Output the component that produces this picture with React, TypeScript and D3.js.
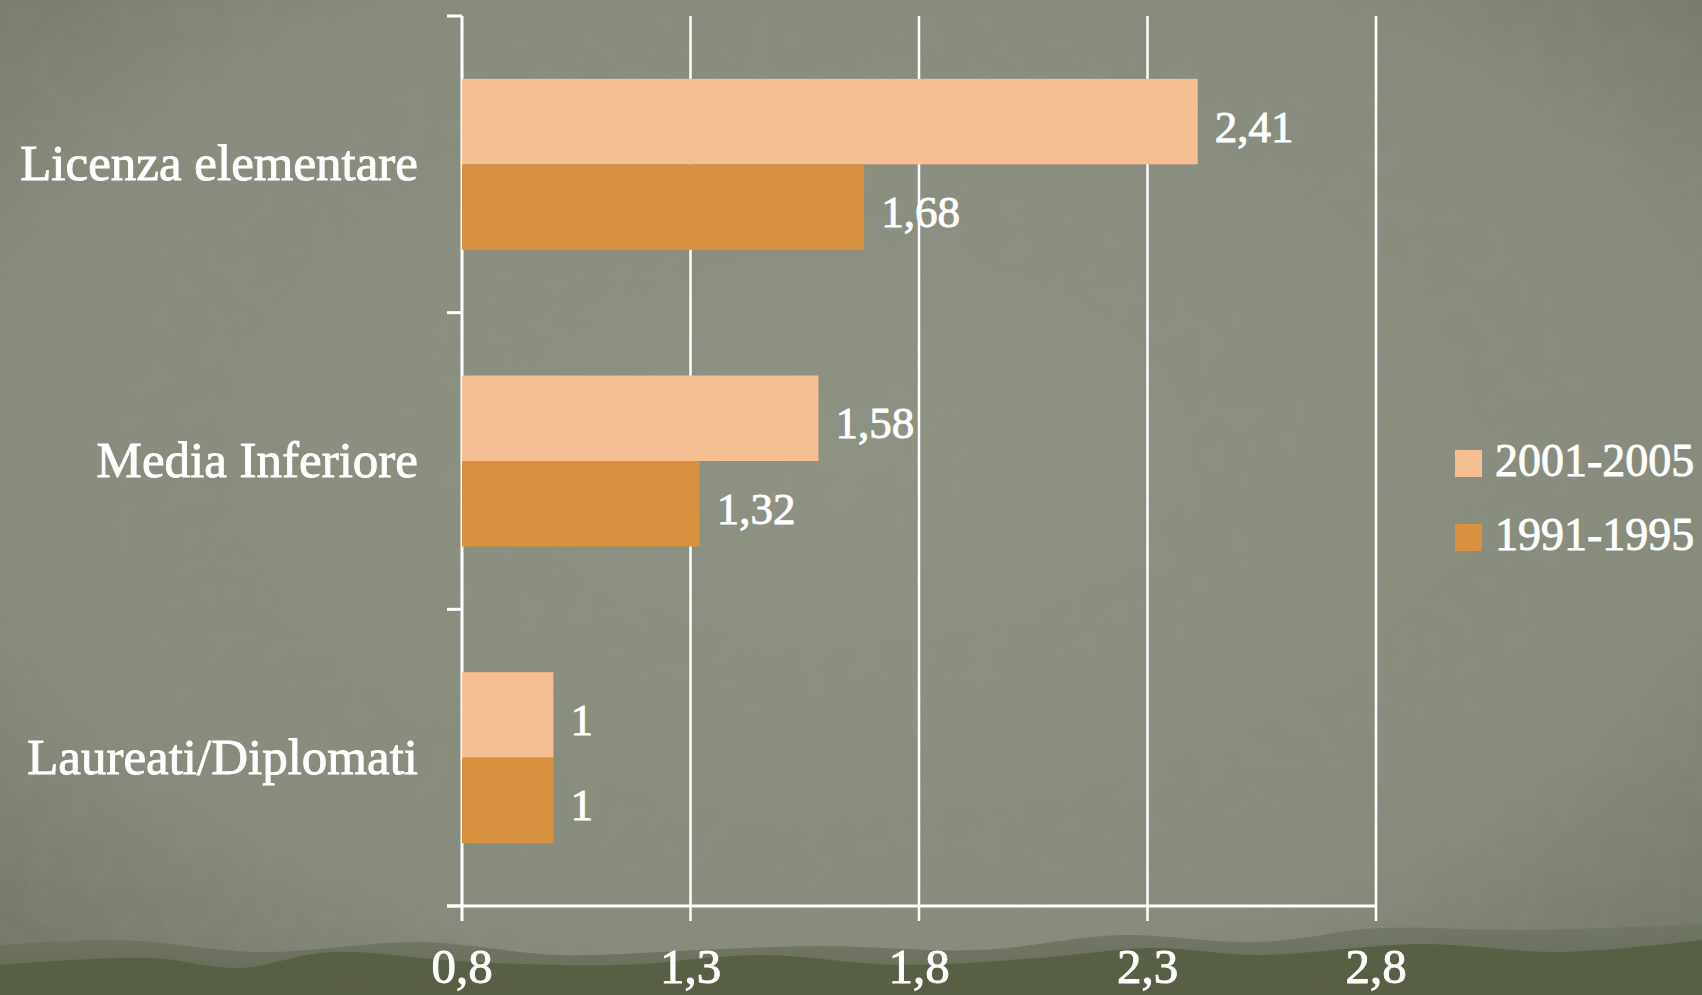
import React from "react";
import * as d3 from "d3";

const categories = ["Licenza elementare", "Media Inferiore", "Laureati/Diplomati"];
const seriesNames = ["2001-2005", "1991-1995"];
const values2001 = [2.41, 1.58, 1];
const values1991 = [1.68, 1.32, 1];
const xTicks = [0.8, 1.3, 1.8, 2.3, 2.8];
const seriesColors = ["#F5BE93", "#D8913F"];

// decorative background silhouette (not data)
const hillBack = [[0, 945], [120, 940], [260, 952], [420, 942], [560, 955], [700, 950], [820, 946], [980, 950], [1120, 935], [1260, 942], [1380, 928], [1520, 930], [1702, 924]];
const hillFront = [[0, 965], [150, 958], [240, 968], [330, 952], [470, 962], [620, 965], [760, 955], [900, 965], [1040, 958], [1150, 948], [1260, 955], [1420, 944], [1560, 952], [1702, 940]];

const W = 1702;
const H = 995;

export default function App() {
  const left = 462;
  const right = 1376;
  const top = 16;
  const bottom = 906;

  const x = d3.scaleLinear().domain([0.8, 2.8]).range([left, right]);
  const y0 = d3.scaleBand<string>().domain(categories).range([top, bottom]).paddingInner(0).paddingOuter(0);
  const y1 = d3.scaleBand<string>().domain(seriesNames).range([0, y0.bandwidth()]).paddingInner(0).paddingOuter(0.735);

  const locale = d3.formatLocale({ decimal: ",", thousands: ".", grouping: [3], currency: ["", "€"] });
  const fmt = locale.format("");

  const data = categories.map((c, i) => ({ cat: c, vals: [values2001[i], values1991[i]] }));

  const hillLine = d3.line().curve(d3.curveCatmullRom);
  const hillPath = (pts: number[][]) => (hillLine(pts as [number, number][]) || "") + `L${W},${H}L0,${H}Z`;

  const font = "'Liberation Serif', 'Times New Roman', serif";
  const catBoundaries = [top, ...categories.map((c) => (y0(c) as number) + y0.bandwidth())];
  const textStyle = { fill: "#fff", stroke: "#fff", strokeWidth: 0.9, fontFamily: font } as const;

  return (
    <svg width={W} height={H} style={{ position: "absolute", left: 0, top: 0, display: "block" }}>
      <defs>
        <radialGradient id="vig" cx="50%" cy="45%" r="75%">
          <stop offset="0%" stopColor="#8d9283" />
          <stop offset="70%" stopColor="#878b7c" />
          <stop offset="100%" stopColor="#6f7464" />
        </radialGradient>
        <filter id="noise" x="0" y="0" width="100%" height="100%">
          <feTurbulence type="fractalNoise" baseFrequency="0.035" numOctaves="3" seed="4" />
          <feColorMatrix type="matrix" values="0 0 0 0 0.3  0 0 0 0 0.32  0 0 0 0 0.28  0 0 0 -1.6 1.0" />
        </filter>
        <linearGradient id="haze" x1="0" y1="0" x2="0" y2="1">
          <stop offset="0%" stopColor="#6f7562" stopOpacity="0.75" />
          <stop offset="100%" stopColor="#5e654e" stopOpacity="0.9" />
        </linearGradient>
      </defs>
      <rect x={0} y={0} width={W} height={H} fill="url(#vig)" />
      <rect x={0} y={0} width={W} height={H} filter="url(#noise)" opacity={0.18} />
      <path d={hillPath(hillBack)} fill="url(#haze)" />
      <path d={hillPath(hillFront)} fill="#555d43" opacity={0.9} />

      {/* gridlines */}
      {xTicks.slice(1).map((t) => (
        <line key={"g" + t} x1={x(t)} x2={x(t)} y1={top} y2={bottom + 15} stroke="#fff" strokeWidth={2.5} />
      ))}
      {/* y axis line & ticks */}
      <line x1={left} x2={left} y1={top} y2={bottom + 15} stroke="#fff" strokeWidth={3} />
      {catBoundaries.map((b, i) => (
        <line key={"yt" + i} x1={left - 15} x2={left} y1={b} y2={b} stroke="#fff" strokeWidth={3} />
      ))}
      {/* x axis line */}
      <line x1={left - 15} x2={right} y1={bottom} y2={bottom} stroke="#fff" strokeWidth={3} />

      {/* bars */}
      {data.map((d) => (
        <g key={d.cat} transform={`translate(0,${y0(d.cat)})`}>
          {d.vals.map((v, j) => (
            <rect
              key={j}
              x={x(0.8)}
              y={y1(seriesNames[j])}
              width={x(v) - x(0.8)}
              height={y1.bandwidth()}
              fill={seriesColors[j]}
            />
          ))}
          {d.vals.map((v, j) => (
            <text
              key={"l" + j}
              x={x(v) + 17}
              y={(y1(seriesNames[j]) as number) + y1.bandwidth() / 2 + 20}
              style={textStyle}
              fontSize={45}
            >
              {fmt(v)}
            </text>
          ))}
        </g>
      ))}

      {/* category labels */}
      {categories.map((c) => (
        <text
          key={c}
          x={418}
          y={(y0(c) as number) + y0.bandwidth() / 2 + 16}
          textAnchor="end"
          style={textStyle}
          fontSize={51}
        >
          {c}
        </text>
      ))}

      {/* x tick labels */}
      {xTicks.map((t) => (
        <text key={"xt" + t} x={x(t)} y={983} textAnchor="middle" style={textStyle} fontSize={49}>
          {fmt(t)}
        </text>
      ))}

      {/* legend */}
      {seriesNames.map((s, i) => (
        <g key={s} transform={`translate(1455,${450 + i * 74})`}>
          <rect x={0} y={0} width={27} height={27} fill={seriesColors[i]} />
          <text x={40} y={26} style={textStyle} fontSize={46}>
            {s}
          </text>
        </g>
      ))}
    </svg>
  );
}
